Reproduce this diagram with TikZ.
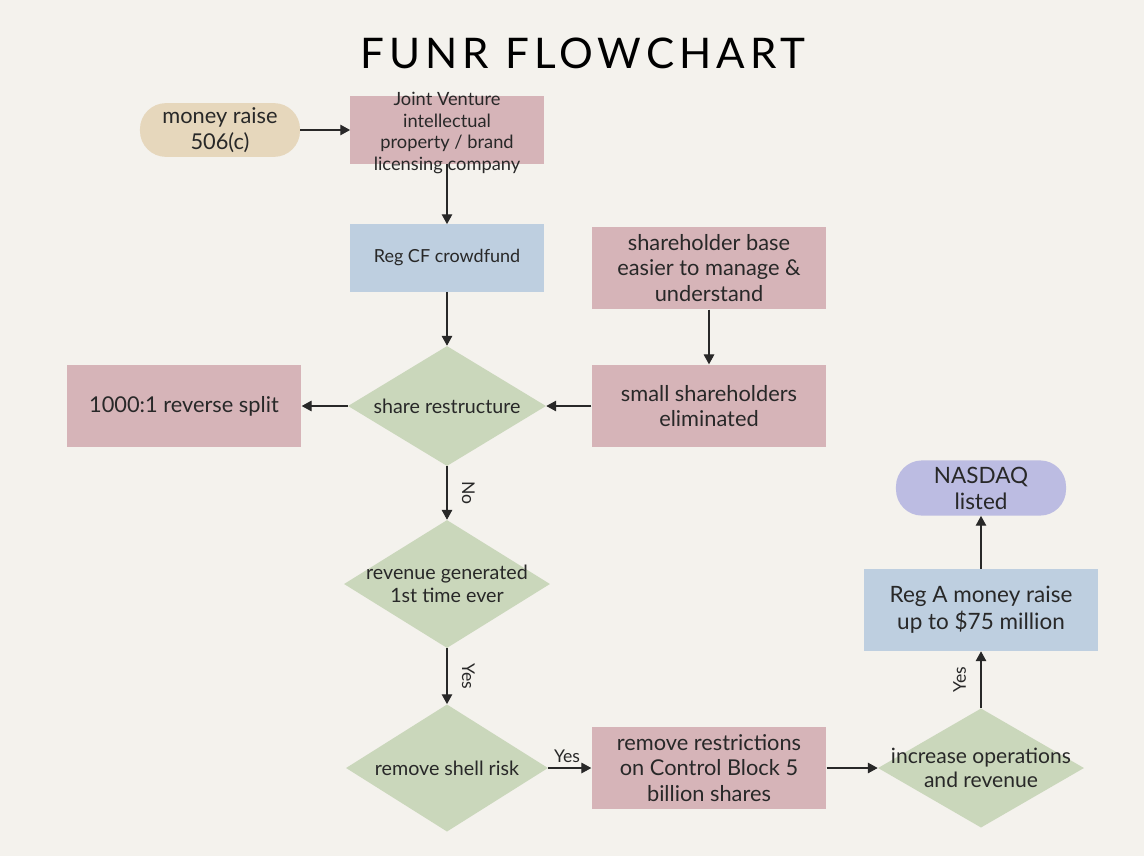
\documentclass[tikz,border=0pt]{standalone}
\usepackage{xcolor}
\usepackage{tikz}
\usepackage{fontspec}
\setmainfont{Lato}
\newfontfamily\titlefont[LetterSpace=12]{Lato}
\definecolor{paper}{RGB}{244, 242, 237}
\definecolor{rosebox}{RGB}{214, 180, 184}
\definecolor{skybox}{RGB}{190, 207, 224}
\definecolor{sagebox}{RGB}{202, 215, 187}
\definecolor{sandbox}{RGB}{230, 215, 188}
\definecolor{lilacbox}{RGB}{188, 188, 226}
\definecolor{inkgray}{RGB}{40, 40, 40}
\usetikzlibrary{shapes, arrows, arrows.meta, positioning, calc}

\begin{document}
\begin{tikzpicture}[
    x=0.025cm, y=-0.025cm,
    rosecard/.style={rectangle, fill=rosebox, minimum width=5.87cm, minimum height=2.07cm, align=center, text=inkgray, font=\fontsize{15.5}{18}\selectfont},
    skycard/.style={rectangle, fill=skybox, minimum width=5.87cm, minimum height=2.05cm, align=center, text=inkgray, font=\fontsize{15.5}{18.5}\selectfont},
    pill/.style={rectangle, rounded corners=0.65cm, align=center, text=inkgray, font=\fontsize{15.5}{18}\selectfont},
    choice/.style={diamond, fill=sagebox, inner sep=-8pt, align=center, text=inkgray, font=\fontsize{14}{16.4}\selectfont},
    arr/.style={draw=inkgray, line width=0.75pt, -{Triangle[width=7.5pt, length=7pt]}},
    tag/.style={text=inkgray, font=\fontsize{12.5}{14}\selectfont}
]
    % Background and title
    \fill[paper] (0,0) rectangle (1144,856);
    \node[text=black, font=\titlefont\fontsize{30}{35}\selectfont] (title) at (583,53) {FUNR FLOWCHART};

    % Top row
    \node[pill, fill=sandbox, minimum width=4cm, minimum height=1.3cm] (money) at (220,130) {money raise\\506(c)};
    \node[rectangle, fill=rosebox, minimum width=4.83cm, minimum height=1.7cm] (jv) at (447,130) {};
    \node[align=center, text=inkgray, font=\fontsize{13}{15.6}\selectfont] (jvtext) at (447,133) {Joint Venture\\intellectual\\property / brand\\licensing company};

    % Left column
    \node[skycard, minimum width=4.83cm, minimum height=1.68cm, font=\fontsize{12.8}{15}\selectfont] (regcf) at (447,258) {Reg CF crowdfund};
    \node[choice, aspect=1.65, minimum width=4.95cm, minimum height=3cm] (share) at (447,406) {share restructure};
    \node[choice, aspect=1.62, minimum width=5.15cm, minimum height=3.2cm] (revenue) at (447,584) {revenue generated\\1st time ever};
    \node[choice, aspect=1.6, minimum width=5.05cm, minimum height=3.18cm] (shell) at (447,768) {remove shell risk};
    \node[rosecard] (split) at (184,406) {1000:1 reverse split};

    % Middle column
    \node[rosecard] (base) at (709,268) {shareholder base\\easier to manage \&\\understand};
    \node[rosecard] (small) at (709,406) {small shareholders\\eliminated};
    \node[rosecard] (restrict) at (709,768) {remove restrictions\\on Control Block 5\\billion shares};

    % Right column
    \node[choice, aspect=1.73, minimum width=5.15cm, minimum height=2.98cm, font=\fontsize{15}{17}\selectfont] (grow) at (981,768) {increase operations\\and revenue};
    \node[skycard, font=\fontsize{16}{19}\selectfont] (rega) at (981,610) {Reg A money raise\\up to \$75 million};
    \node[pill, fill=lilacbox, minimum width=4.25cm, minimum height=1.38cm, font=\fontsize{16}{18.5}\selectfont] (nasdaq) at (981,488) {NASDAQ\\listed};

    % Connectors
    \draw[arr] (money) -- (jv);
    \draw[arr] (jv) -- (regcf);
    \draw[arr] (regcf) -- (share);
    \draw[arr] (base) -- (small);
    \draw[arr] (small) -- (share);
    \draw[arr] (share) -- (split);
    \draw[arr] (share) -- node[tag, rotate=-90, anchor=south, yshift=7pt] {No} (revenue);
    \draw[arr] (revenue) -- node[tag, rotate=-90, anchor=south, yshift=7pt] {Yes} (shell);
    \draw[arr] (shell) -- node[tag, above, xshift=-2pt] {Yes} (restrict);
    \draw[arr] (restrict) -- (grow);
    \draw[arr] (grow) -- node[tag, rotate=90, anchor=south, yshift=7pt] {Yes} (rega);
    \draw[arr] (rega) -- (nasdaq);
\end{tikzpicture}
\end{document}
